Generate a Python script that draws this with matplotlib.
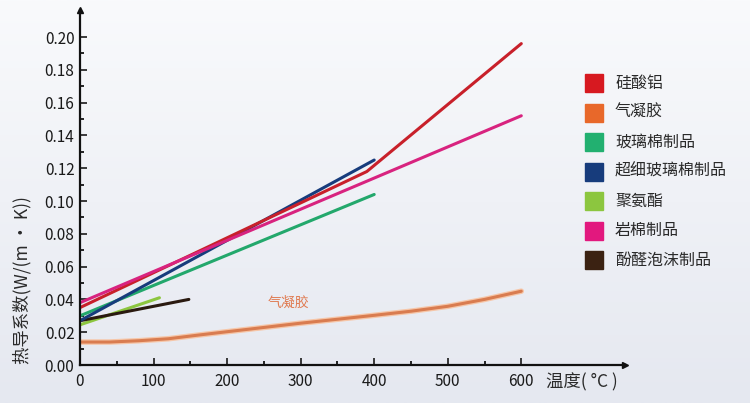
import matplotlib as mpl
mpl.use('Agg')

import matplotlib.pyplot as plt
import numpy as np
from matplotlib.patches import Rectangle

plt.rcParams['font.family'] = ['Noto Sans CJK SC', 'DejaVu Sans']

# data (temperature in C, conductivity in W/(m*K))
names = ['硅酸铝', '气凝胶', '玻璃棉制品', '超细玻璃棉制品', '聚氨酯', '岩棉制品', '酚醛泡沫制品']
colors = ['#d71920', '#e8682a', '#22b070', '#173c7c', '#8cc63f', '#e2187e', '#3b2212']
line_colors = ['#c8202a', '#d97c50', '#23a86c', '#173c7c', '#8cc63f', '#d8237f', '#2a1a10']

t_alsi = [0, 390, 600]
k_alsi = [0.035, 0.118, 0.196]
t_aero = [0, 40, 80, 120, 160, 200, 300, 400, 450, 500, 550, 600]
k_aero = [0.014, 0.014, 0.0148, 0.016, 0.0182, 0.0203, 0.0255, 0.0303, 0.0328, 0.0358, 0.040, 0.045]
t_glass = [0, 400]
k_glass = [0.030, 0.104]
t_fine = [0, 400]
k_fine = [0.027, 0.125]
t_pu = [0, 108]
k_pu = [0.0245, 0.041]
t_rock = [0, 600]
k_rock = [0.038, 0.152]
t_phen = [0, 148]
k_phen = [0.027, 0.040]

series = [(t_alsi, k_alsi), (t_aero, k_aero), (t_glass, k_glass), (t_fine, k_fine),
          (t_pu, k_pu), (t_rock, k_rock), (t_phen, k_phen)]
draw_order = [1, 4, 6, 2, 3, 0, 5]

fig = plt.figure(figsize=(7.5, 4.03), dpi=100)

# soft gradient background
bg = fig.add_axes([0, 0, 1, 1], zorder=-10)
grad = np.linspace(0, 1, 256).reshape(-1, 1)
bg.imshow(grad, aspect='auto', extent=[0, 1, 0, 1],
          cmap=mpl.colors.LinearSegmentedColormap.from_list('bg', ['#e5e8f0', '#f9fafc']),
          origin='lower')
bg.axis('off')

ax = fig.add_axes([80/750, 1-365/403, 545/750, 355/403])
ax.patch.set_alpha(0)

for i in draw_order:
    t, k = series[i]
    if i == 1:
        ax.plot(t, k, color='#f6c6a8', lw=4.0, solid_capstyle='round', solid_joinstyle='round')
    ax.plot(t, k, color=line_colors[i], lw=2.2, solid_capstyle='round', solid_joinstyle='round')

ax.text(283, 0.038, '气凝胶', color='#e07a50', fontsize=10, ha='center', va='center')

ax.set_xlim(0, 741)
ax.set_ylim(0, 0.2165)
ax.set_xticks([0, 100, 200, 300, 400, 500, 600])
ax.set_xticks([50, 150, 250, 350, 450, 550], minor=True)
ax.set_yticks(np.arange(0, 0.201, 0.02))
ax.set_yticks(np.arange(0.01, 0.2, 0.02), minor=True)
ax.set_yticklabels(['%.2f' % v for v in np.arange(0, 0.201, 0.02)])
ax.tick_params(direction='in', length=5, width=1.2, labelsize=11, colors='#1a1a1a')
ax.tick_params(which='minor', direction='in', length=3, width=1.2)
ax.tick_params(axis='x', pad=6)
ax.tick_params(axis='y', pad=4)

for s in ['top', 'right']:
    ax.spines[s].set_visible(False)
for s in ['left', 'bottom']:
    ax.spines[s].set_linewidth(1.6)
    ax.spines[s].set_color('#111111')
ax.plot(1, 0, '>', color='#111111', ms=5, transform=ax.transAxes, clip_on=False)
ax.plot(0, 1, '^', color='#111111', ms=5, transform=ax.transAxes, clip_on=False)

fig.text(546/750, 1-382/403, '温度( °C )', fontsize=12.5, ha='left', va='center', color='#2a2a2a')
fig.text(22/750, 1-280/403, '热导系数(W/(m · K))', fontsize=12.5, rotation=90,
         ha='center', va='center', color='#2a2a2a')

# legend
for j, (name, c) in enumerate(zip(names, colors)):
    yc = 83 + j * 29.5
    fig.add_artist(Rectangle((585/750, 1-(yc+9)/403), 18/750, 18/403,
                             transform=fig.transFigure, color=c))
    fig.text(615/750, 1-yc/403, name, fontsize=11.5, ha='left', va='center', color='#2a2a2a')

plt.savefig('out.png', dpi=100)
